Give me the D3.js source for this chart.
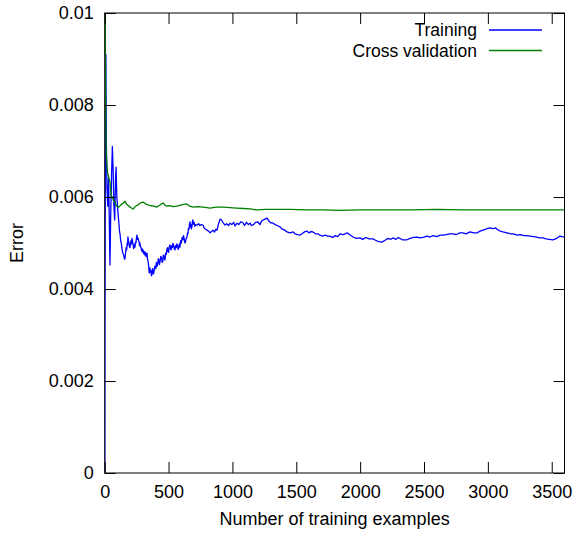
<!DOCTYPE html>
<html>
<head>
<meta charset="utf-8">
<script src="https://cdn.jsdelivr.net/npm/d3@7"></script>
<style>
  html, body { margin: 0; padding: 0; background: #fff; }
  svg { display: block; }
  text { font-family: "Liberation Sans", Arial, Helvetica, sans-serif; fill: #000; }
</style>
</head>
<body>
<svg id="chart" width="574" height="535"></svg>
<script>
// ---- data ----
const seriesNames = ["Training", "Cross validation"];
const xTicks = [0, 500, 1000, 1500, 2000, 2500, 3000, 3500];
const yTicks = [0, 0.002, 0.004, 0.006, 0.008, 0.01];
const yTickLabels = ["0", "0.002", "0.004", "0.006", "0.008", "0.01"];

const trainX = [1,2,5,9,13,18,24,30,36,41,47,54,60,66,72,78,85,89,95,103,
  112,116,120,125,130,135,140,145,150,155,159,164,168,172,176,179,182,186,190,194,198,202,206,210,214,218,222,226,230,234,237,241,245,249,253,257,262,266,270,273,276,280,285,289,292,296,300,304,308,313,318,324,331,335,340,345,349,352,355,358,362,366,370,374,378,382,386,390,394,400,405,410,415,420,425,429,433,439,445,450,455,459,463,468,472,477,482,487,492,496,500,506,511,515,520,525,530,535,540,545,550,555,560,565,570,575,580,585,589,595,600,606,613,617,622,626,630,637,644,648,652,656,660,664,668,671,675,679,683,687,691,695,700,705,710,
  723,735,745,755,770,780,790,801,812,825,836,848,860,870,879,890,903,915,925,942,955,970,981,995,1010,1020,1036,1050,1065,1083,1095,1110,1125,1138,1150,1165,1180,1200,1215,1230,1240,1255,1271,1285,1300,1318,1335,1350,1373,1390,1410,1428,1450,1475,1490,1510,1528,1545,1563,1583,1600,1615,1630,1650,1670,1685,1705,1725,1745,1764,1785,1805,1825,1842,1865,1885,1897,1920,1945,1970,1999,2020,2045,2070,2101,2120,2145,2171,2195,2220,2240,2257,2280,2300,2330,2367,2390,2420,2445,2470,2500,2525,2547,2570,2600,2625,2649,2675,2700,2727,2750,2780,2805,2830,2860,2890,2915,2940,2962,2985,3000,3017,3040,3060,3072,3095,3118,3150,3180,3200,3228,3255,3280,3300,3329,3360,3390,3410,3431,3455,3480,3509,3530,3550,3564,3580,3600];
const trainErr = [0,0.0030,0.0065,0.0091,0.0072,0.0062,0.0058,0.0064,0.0055,0.00452,0.0056,0.0065,0.0071,0.0066,0.0058,0.0055,0.0064,0.00665,0.0060,0.0057,
  0.0054,0.00525,0.0052,0.00505,0.0050,0.00488,0.0048,0.00476,0.00472,0.00465,0.00467,0.0048,0.0049,0.00485,0.0050,0.00495,0.00513,0.00505,0.0050,0.00492,0.0049,0.00498,0.00505,0.00498,0.0051,0.00503,0.00498,0.00488,0.0049,0.00497,0.00491,0.00502,0.0050,0.00512,0.00517,0.00508,0.0051,0.00504,0.00502,0.00494,0.0050,0.00492,0.0049,0.00483,0.00488,0.00481,0.00485,0.00477,0.00482,0.00474,0.0048,0.00471,0.00478,0.00465,0.0046,0.00448,0.00435,0.00446,0.00445,0.00437,0.0044,0.00429,0.00432,0.00444,0.0044,0.00433,0.00438,0.00447,0.0045,0.00444,0.00458,0.00449,0.00455,0.00466,0.00462,0.00453,0.00459,0.00471,0.00468,0.00458,0.0046,0.00474,0.00472,0.00466,0.00463,0.00478,0.00475,0.00486,0.0049,0.00481,0.0048,0.00492,0.00496,0.00488,0.00485,0.00494,0.0049,0.00499,0.00495,0.00487,0.00485,0.00494,0.0049,0.00498,0.00495,0.00486,0.0049,0.00498,0.00491,0.00505,0.0050,0.00512,0.00507,0.00516,0.0051,0.00502,0.0050,0.00509,0.00513,0.00522,0.0052,0.00532,0.0053,0.00541,0.00546,0.00535,0.0054,0.00531,0.00535,0.00547,0.0055,0.00541,0.00545,0.00536,0.0054,
  0.00539,0.00542,0.00538,0.0054,0.00539,0.00532,0.0053,0.00528,0.00526,0.00522,0.00525,0.00528,0.00524,0.0053,0.00528,0.0054,0.00552,0.0055,0.00545,0.00539,0.00542,0.00538,0.00543,0.0054,0.00545,0.00537,0.00543,0.0054,0.00546,0.00544,0.00538,0.00545,0.0054,0.00543,0.00538,0.0054,0.00545,0.00546,0.0054,0.00548,0.0055,0.00552,0.00554,0.00548,0.00544,0.00543,0.0054,0.00538,0.00535,0.0053,0.00528,0.00524,0.00522,0.00524,0.0052,0.00518,0.00517,0.0052,0.00524,0.00526,0.00522,0.00525,0.00524,0.0052,0.0052,0.00517,0.00515,0.00517,0.00515,0.00515,0.00512,0.00516,0.00514,0.0052,0.00518,0.0052,0.00522,0.00518,0.00513,0.0051,0.00511,0.00508,0.00512,0.00509,0.00509,0.00506,0.00503,0.00502,0.00506,0.0051,0.00508,0.00511,0.00508,0.00512,0.00507,0.00507,0.0051,0.00512,0.00513,0.00511,0.00513,0.00515,0.00513,0.00516,0.00514,0.00517,0.00517,0.00518,0.0052,0.0052,0.00518,0.00522,0.00522,0.0052,0.00524,0.00522,0.00522,0.00526,0.00528,0.0053,0.00532,0.00533,0.00531,0.00533,0.0053,0.00526,0.00524,0.00522,0.0052,0.0052,0.00517,0.00518,0.00516,0.00516,0.00515,0.00514,0.00512,0.00511,0.00511,0.00509,0.00508,0.00507,0.00509,0.00512,0.00515,0.00514,0.00513];

const cvX = [1,2,4,6,8,11,15,20,24,28,34,41,48,55,62,68,75,81,88,95,107,118,130,146,159,170,182,200,210,222,235,248,261,280,302,320,339,360,385,407,430,445,459,472,485,510,535,564,590,615,642,665,692,730,770,800,825,870,929,980,1034,1090,1138,1190,1260,1347,1450,1582,1700,1842,2000,2200,2400,2600,2800,3000,3200,3400,3600];
const cvErr = [0.0160,0.0130,0.0105,0.0090,0.0078,0.0071,0.0068,0.0066,0.0065,0.00648,0.0064,0.00633,0.0061,0.00598,0.0060,0.00592,0.0059,0.00589,0.00583,0.0058,0.00578,0.0058,0.00584,0.00587,0.00591,0.00585,0.00582,0.00578,0.00576,0.00574,0.00578,0.00581,0.00583,0.00587,0.00589,0.00585,0.00583,0.00581,0.0058,0.00578,0.00582,0.00585,0.00587,0.00582,0.0058,0.00581,0.00579,0.0058,0.00582,0.00584,0.00585,0.0058,0.00578,0.00579,0.00578,0.00577,0.00576,0.00578,0.00578,0.00577,0.00576,0.00575,0.00574,0.00572,0.00573,0.00573,0.00573,0.00572,0.00572,0.00571,0.00572,0.00572,0.00572,0.00573,0.00572,0.00572,0.00572,0.00572,0.00572];

// ---- layout ----
const L = 104.7, R = 564.5, T = 13, B = 473;
const svg = d3.select("#chart");
const x = d3.scaleLinear().domain([0, 3600]).range([L, R]);
const y = d3.scaleLinear().domain([0, 0.01]).range([B, T]);
const fontSize = 18;
const legendFont = 17.5;
const tickLen = 11;

svg.append("defs").append("clipPath").attr("id", "clip")
  .append("rect").attr("x", L).attr("y", T).attr("width", R - L).attr("height", B - T);

// series
const train = trainX.map((v, i) => [v, trainErr[i]]);
const cv = cvX.map((v, i) => [v, cvErr[i]]);
const line = d3.line().x(d => x(d[0])).y(d => y(d[1]));
const colors = ["#0000ff", "#008000"];

const g = svg.append("g").attr("clip-path", "url(#clip)");
g.append("path").datum(train).attr("d", line)
  .attr("fill", "none").attr("stroke", colors[0]).attr("stroke-width", 1.3).attr("stroke-linejoin", "round");
g.append("path").datum(cv).attr("d", line)
  .attr("fill", "none").attr("stroke", colors[1]).attr("stroke-width", 1.3).attr("stroke-linejoin", "round");

// axes with inward ticks (mirror on all sides)
const axB = d3.axisBottom(x).tickValues(xTicks).tickSize(-tickLen).tickPadding(12).tickFormat(d3.format("d"));
const axT = d3.axisTop(x).tickValues(xTicks).tickSize(-tickLen).tickFormat("");
const axL = d3.axisLeft(y).tickValues(yTicks).tickSize(-tickLen).tickPadding(11).tickFormat((d, i) => yTickLabels[i]);
const axR = d3.axisRight(y).tickValues(yTicks).tickSize(-tickLen).tickFormat("");

function style(sel) {
  sel.select(".domain").remove();
  sel.selectAll(".tick line").attr("stroke", "#000").attr("stroke-width", 1);
  sel.selectAll(".tick text").attr("font-size", fontSize).attr("font-family", "Liberation Sans, Arial, sans-serif").attr("fill", "#000");
}
svg.append("g").attr("transform", `translate(0,${B})`).call(axB).call(style);
svg.append("g").attr("transform", `translate(0,${T})`).call(axT).call(style);
svg.append("g").attr("transform", `translate(${L},0)`).call(axL).call(style);
svg.append("g").attr("transform", `translate(${R},0)`).call(axR).call(style);

// frame
svg.append("rect").attr("x", L).attr("y", T).attr("width", R - L).attr("height", B - T)
  .attr("fill", "none").attr("stroke", "#000").attr("stroke-width", 1);

// axis titles
svg.append("text").attr("x", (L + R) / 2).attr("y", 525).attr("text-anchor", "middle")
  .attr("font-size", fontSize).text("Number of training examples");
svg.append("text").attr("transform", `translate(23,${(T + B) / 2}) rotate(-90)`).attr("text-anchor", "middle")
  .attr("font-size", fontSize).text("Error");

// legend
const leg = svg.append("g");
seriesNames.forEach((name, i) => {
  const ly = 30 + i * 20.5;
  leg.append("text").attr("x", 477).attr("y", ly).attr("dy", "0.35em").attr("text-anchor", "end")
    .attr("font-size", legendFont).text(name);
  leg.append("line").attr("x1", 489).attr("x2", 542).attr("y1", ly).attr("y2", ly)
    .attr("stroke", colors[i]).attr("stroke-width", 1.3);
});
</script>
</body>
</html>
